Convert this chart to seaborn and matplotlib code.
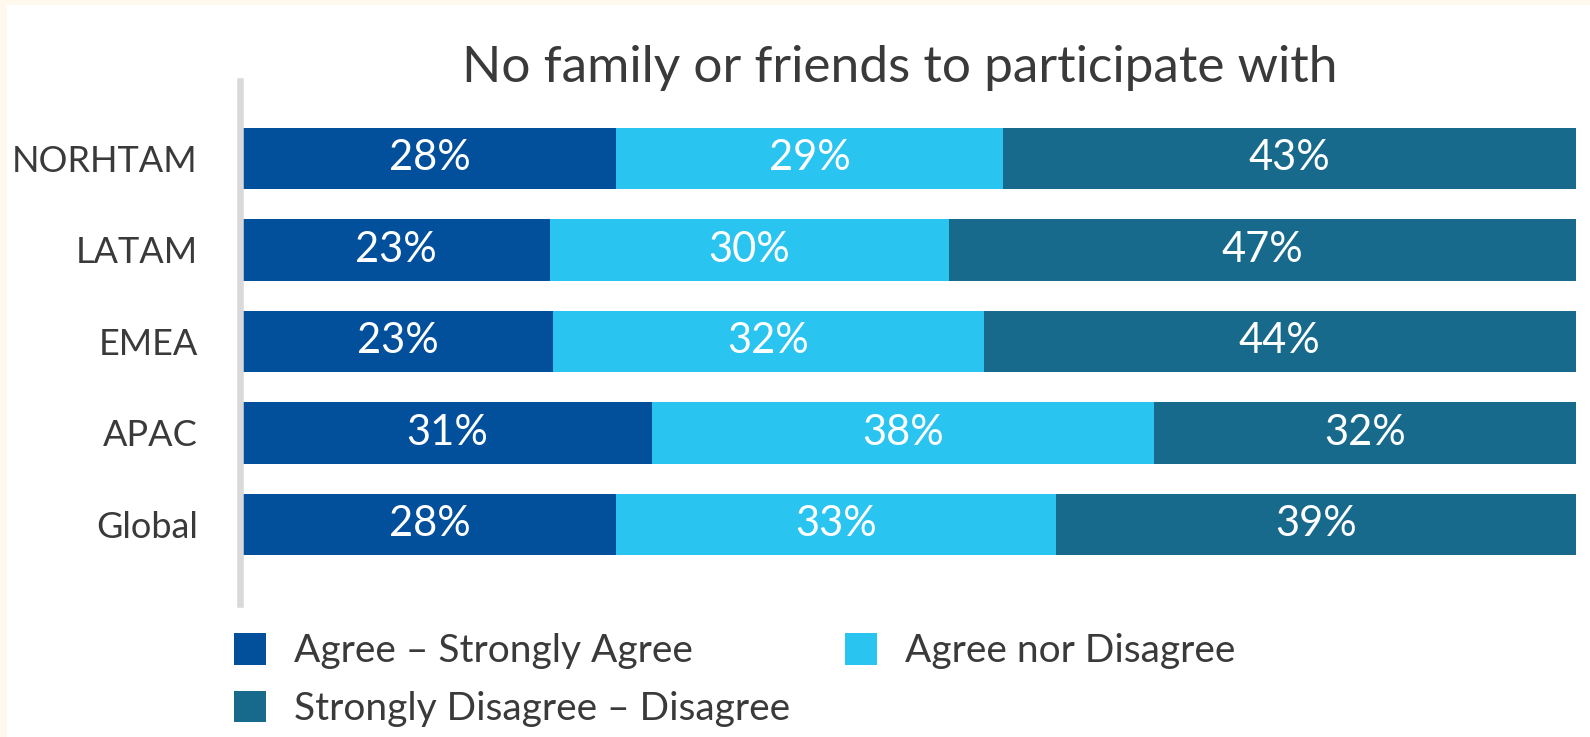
import numpy as np
import pandas as pd
import matplotlib
matplotlib.use("Agg")
import matplotlib.pyplot as plt
from matplotlib.patches import Rectangle, Patch
import seaborn as sns

regions = ["NORHTAM", "LATAM", "EMEA", "APAC", "Global"]
agree = [28, 23, 23, 31, 28]
neutral = [29, 30, 32, 38, 33]
disagree = [43, 47, 44, 32, 39]

series_names = ["Agree – Strongly Agree", "Agree nor Disagree", "Strongly Disagree – Disagree"]
colors = ["#02509C", "#2AC4F1", "#176A8C"]
title = "No family or friends to participate with"

sns.set_theme(style="white")
plt.rcParams["font.family"] = ["Lato", "DejaVu Sans"]
text_color = "#3A3A3A"

W, H, DPI = 1590, 737, 100
fig = plt.figure(figsize=(W / DPI, H / DPI), dpi=DPI, facecolor="#FFF8EC")
fig.patches.append(Rectangle((7 / W, 0), 1, (H - 5) / H, transform=fig.transFigure,
                             facecolor="white", edgecolor="none", zorder=-5))

ax_left, ax_right, ax_top, ax_bottom = 243, 1576, 81, 604
ax = fig.add_axes([ax_left / W, (H - ax_bottom) / H,
                   (ax_right - ax_left) / W, (ax_bottom - ax_top) / H])
ax.set_facecolor("none")

df = pd.DataFrame({"region": regions, "agree": agree,
                   "neutral": neutral, "disagree": disagree})
totals = df[["agree", "neutral", "disagree"]].sum(axis=1)
# 100% stacked: each row is scaled to its own total
shares = df[["agree", "neutral", "disagree"]].div(totals, axis=0) * 100
cum = shares.cumsum(axis=1)

# draw back to front so each shorter cumulative bar sits on top
for col, c in zip(["disagree", "neutral", "agree"], colors[::-1]):
    sns.barplot(x=cum[col], y=df["region"], orient="h", color=c, saturation=1,
                width=0.667, linewidth=0, ax=ax)

# value labels centred in each segment
starts = cum.shift(axis=1, fill_value=0)
for j, col in enumerate(["agree", "neutral", "disagree"]):
    for i in range(len(df)):
        xc = starts[col].iloc[i] + shares[col].iloc[i] / 2
        ax.text(xc, i, f"{df[col].iloc[i]}%", ha="center", va="center",
                color="white", fontsize=30)

ax.set_xlim(0, 100)
ax.set_ylim(4.869, -0.847)
ax.set_xlabel("")
ax.set_ylabel("")
ax.set_xticks([])
ax.tick_params(axis="y", length=0, pad=30, labelsize=26, labelcolor=text_color)
for s in ["top", "right", "bottom"]:
    ax.spines[s].set_visible(False)
ax.spines["left"].set_color("#D9D9D9")
ax.spines["left"].set_linewidth(4.7)
ax.spines["left"].set_position(("outward", 2.5))

fig.text(900 / W, 1 - 82 / H, title, ha="center", va="baseline",
         fontsize=37, color=text_color)

handles = [Patch(facecolor=c, edgecolor="none") for c in colors]
leg_kw = dict(frameon=False, fontsize=28, handlelength=0.82, handleheight=0.87,
              handletextpad=0.72, labelspacing=0.55, borderpad=0, borderaxespad=0,
              loc="upper left", labelcolor=text_color)
leg1 = fig.legend([handles[0], handles[2]], [series_names[0], series_names[2]],
                  bbox_to_anchor=(234 / W, 1 - 633 / H), **leg_kw)
leg2 = fig.legend([handles[1]], [series_names[1]],
                  bbox_to_anchor=(845 / W, 1 - 633 / H), **leg_kw)

fig.savefig("out.png", dpi=DPI, facecolor=fig.get_facecolor())
